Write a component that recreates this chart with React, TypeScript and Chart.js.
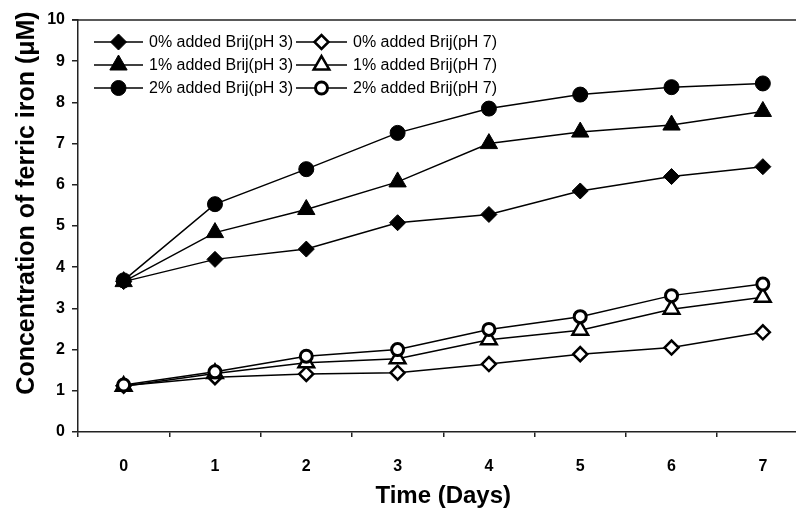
import React, { useEffect, useRef } from 'react';
import { Chart, registerables } from 'chart.js';
import { drawPoint } from 'chart.js/helpers';

Chart.register(...registerables);

const days = ['0', '1', '2', '3', '4', '5', '6', '7'];

const brij0pH3 = [3.65, 4.19, 4.44, 5.08, 5.28, 5.85, 6.2, 6.44];
const brij1pH3 = [3.65, 4.84, 5.4, 6.07, 7.0, 7.28, 7.45, 7.78];
const brij2pH3 = [3.68, 5.53, 6.38, 7.26, 7.85, 8.19, 8.37, 8.46];
const brij0pH7 = [1.12, 1.33, 1.41, 1.44, 1.65, 1.89, 2.05, 2.42];
const brij1pH7 = [1.11, 1.42, 1.68, 1.78, 2.24, 2.47, 2.98, 3.27];
const brij2pH7 = [1.14, 1.46, 1.84, 2.0, 2.49, 2.8, 3.31, 3.59];

const labels = [
  '0% added Brij(pH 3)',
  '0% added Brij(pH 7)',
  '1% added Brij(pH 3)',
  '1% added Brij(pH 7)',
  '2% added Brij(pH 3)',
  '2% added Brij(pH 7)',
];

const yTitle = 'Concentration of ferric iron (\u03bcM)';
const xTitle = 'Time (Days)';

const FONT = "'Liberation Sans', Arial, sans-serif";

export default function App() {
  const ref = useRef<HTMLCanvasElement>(null);

  useEffect(() => {
    const canvas = ref.current;
    if (!canvas) return;

    const mk = (label: string, data: number[], style: string, radius: number, filled: boolean, bw: number) => ({
      label,
      data,
      borderColor: '#000',
      borderWidth: 1.5,
      pointStyle: style,
      pointRadius: radius,
      pointBackgroundColor: filled ? '#000' : '#fff',
      pointBorderColor: '#000',
      pointBorderWidth: bw,
      pointHoverRadius: radius,
      fill: false,
      tension: 0,
    });

    const datasets = [
      mk(labels[4], brij2pH3, 'circle', 7.5, true, 1),
      mk(labels[2], brij1pH3, 'triangle', 10, true, 1),
      mk(labels[0], brij0pH3, 'rectRot', 8, true, 1),
      mk(labels[5], brij2pH7, 'circle', 6, false, 3),
      mk(labels[3], brij1pH7, 'triangle', 9, false, 2.5),
      mk(labels[1], brij0pH7, 'rectRot', 7, false, 2.5),
    ];

    const decor = {
      id: 'decor',
      afterDraw(chart: any) {
        const c = chart.ctx as CanvasRenderingContext2D;
        const { left, right, top } = chart.chartArea;
        c.save();
        // top frame line
        c.strokeStyle = '#222';
        c.lineWidth = 1.5;
        c.beginPath();
        c.moveTo(left - 6, top);
        c.lineTo(right, top);
        c.stroke();

        // legend (two columns, three rows)
        const colLine = [[94, 143], [296, 347]];
        const colText = [149, 353];
        const rowY = [42, 65, 88];
        labels.forEach((lab, i) => {
          const ds = chart.data.datasets.find((d: any) => d.label === lab);
          if (!ds) return;
          const col = i % 2;
          const row = Math.floor(i / 2);
          const y = rowY[row];
          const [x0, x1] = colLine[col];
          c.strokeStyle = '#000';
          c.lineWidth = 1.5;
          c.beginPath();
          c.moveTo(x0, y);
          c.lineTo(x1, y);
          c.stroke();
          c.fillStyle = ds.pointBackgroundColor;
          c.strokeStyle = ds.pointBorderColor;
          c.lineWidth = ds.pointBorderWidth;
          drawPoint(c, { pointStyle: ds.pointStyle, radius: ds.pointRadius, borderWidth: ds.pointBorderWidth, rotation: 0 } as any, (x0 + x1) / 2, y);
          c.fillStyle = '#000';
          c.font = `16px ${FONT}`;
          c.textAlign = 'left';
          c.textBaseline = 'middle';
          c.fillText(lab, colText[col], y + 1);
        });

        // y axis title
        c.translate(27, 203);
        c.rotate(-Math.PI / 2);
        c.fillStyle = '#000';
        c.font = `bold 25px ${FONT}`;
        c.textAlign = 'center';
        c.textBaseline = 'middle';
        c.fillText(yTitle, 0, 0);
        c.restore();
      },
    };

    const chart = new Chart(canvas, {
      type: 'line',
      data: { labels: days, datasets: datasets as any },
      options: {
        animation: false,
        responsive: false,
        devicePixelRatio: 1,
        layout: { padding: { top: 20, right: 0, bottom: 0, left: 0 } },
        plugins: {
          legend: { display: false },
          tooltip: { enabled: false },
        },
        scales: {
          x: {
            type: 'category',
            offset: true,
            grid: {
              offset: true,
              drawOnChartArea: false,
              drawTicks: true,
              tickLength: 5,
              color: '#222',
              lineWidth: 1.5,
            },
            border: { color: '#222', width: 1.5 },
            ticks: {
              color: '#000',
              font: { family: FONT, size: 16, weight: 'bold' },
              padding: 20,
              maxRotation: 0,
            },
            title: {
              display: true,
              text: xTitle,
              color: '#000',
              font: { family: FONT, size: 24, weight: 'bold', lineHeight: 1 },
              padding: { top: 0, bottom: 0 },
            },
            afterFit: (s: any) => {
              s.height = 76;
            },
          },
          y: {
            min: 0,
            max: 10,
            grid: {
              drawOnChartArea: false,
              drawTicks: true,
              tickLength: 6,
              color: '#222',
              lineWidth: 1.5,
            },
            border: { color: '#222', width: 1.5 },
            ticks: {
              stepSize: 1,
              color: '#000',
              font: { family: FONT, size: 16, weight: 'bold' },
              padding: 7,
            },
            afterFit: (s: any) => {
              s.width = 78;
            },
          },
        },
      },
      plugins: [decor],
    });

    return () => chart.destroy();
  }, []);

  return (
    <div
      style={{
        position: 'absolute',
        left: 0,
        top: 0,
        width: 796,
        height: 508,
        overflow: 'hidden',
        background: '#fff',
      }}
    >
      <canvas ref={ref} width={820} height={508} style={{ display: 'block', width: 820, height: 508 }} />
    </div>
  );
}
